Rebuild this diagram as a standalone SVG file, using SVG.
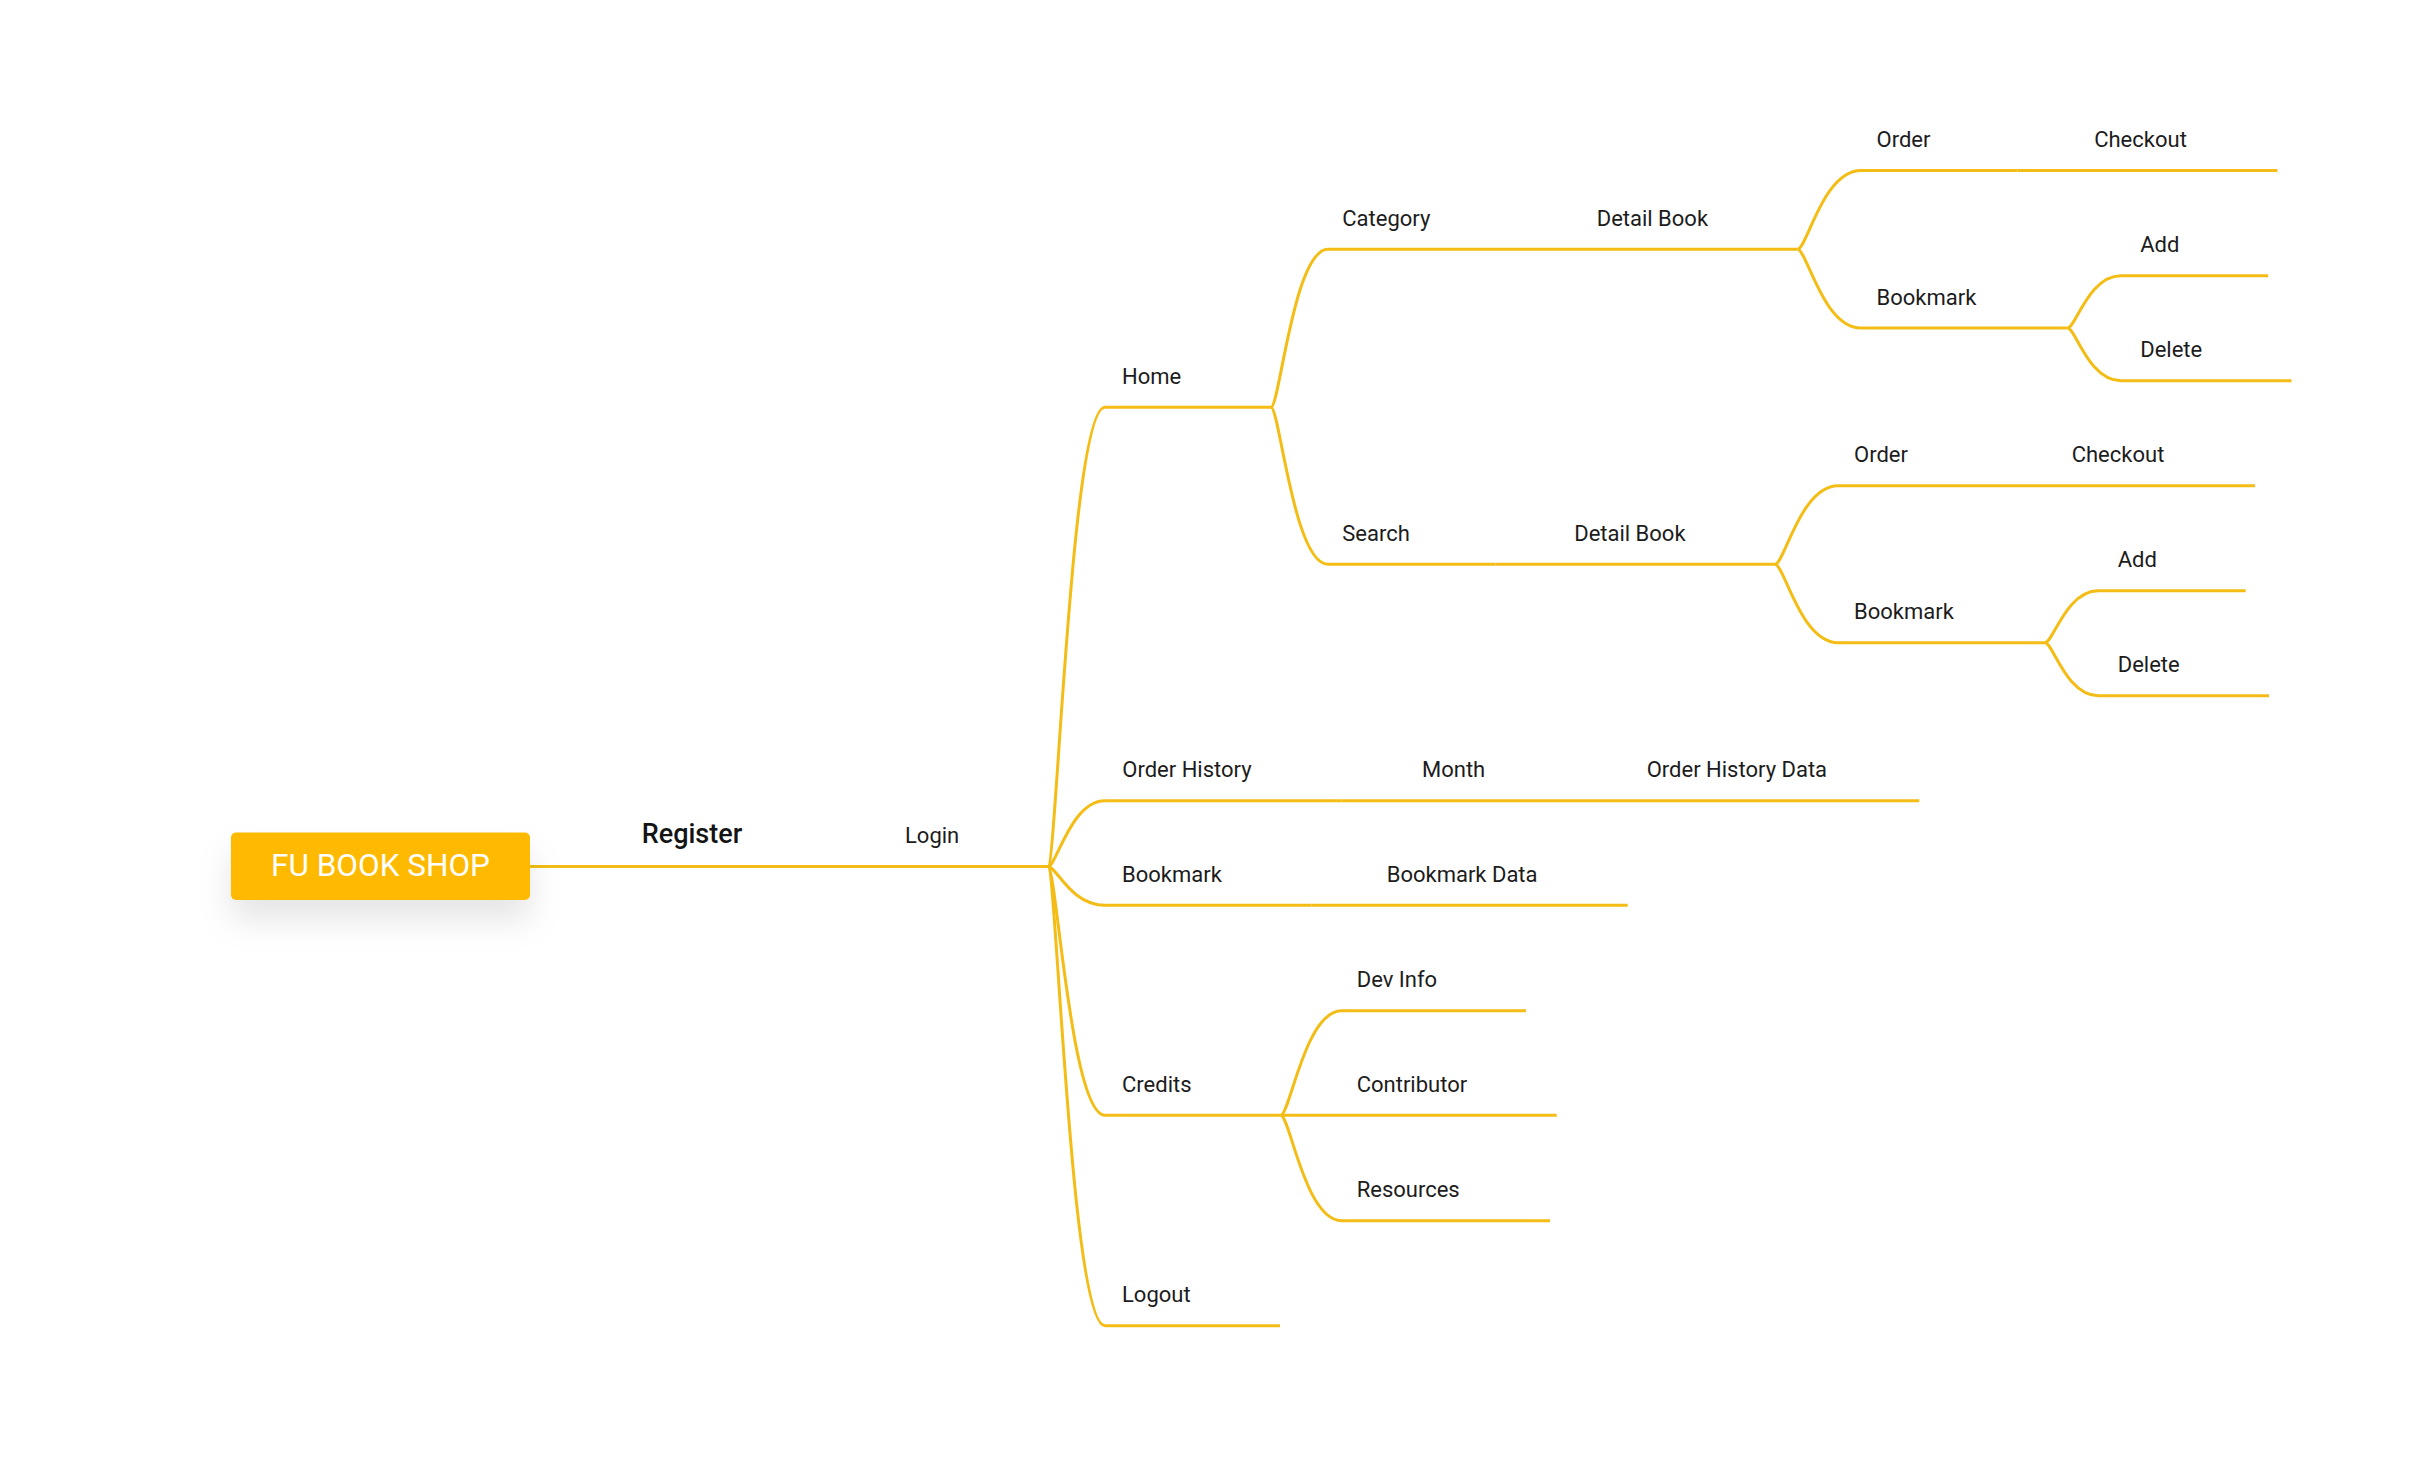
<svg xmlns="http://www.w3.org/2000/svg" width="2412" height="1458" viewBox="0 0 2412 1458">
  <defs>
    <filter id="shadow" x="-30%" y="-60%" width="160%" height="280%">
      <feDropShadow dx="0" dy="20" stdDeviation="16" flood-color="#000000" flood-opacity="0.10"/>
    </filter>
    <style>
      .edge { fill: none; stroke: #F3BD16; stroke-width: 3; stroke-linecap: butt; stroke-linejoin: round; }
      .lbl { font-family: Roboto, "Liberation Sans", sans-serif; font-size: 22px; fill: #1c1c1c; }
      .l1 { font-family: Roboto, "Liberation Sans", sans-serif; font-size: 27px; font-weight: 500; fill: #141414; }
      .root-box { fill: #FFBA00; }
      .root-txt { font-family: Roboto, "Liberation Sans", sans-serif; font-size: 31.5px; fill: #ffffff; text-anchor: middle; }
    </style>
  </defs>
  <rect width="2412" height="1458" fill="#ffffff"/>

  <g id="connectors">
    <path class="edge" d="M530 866.5 H828"/>
    <path class="edge" d="M828 866.5 H1048"/>
    <path class="edge" d="M1048 866.5 C1056.55 866.5 1070.8 407.3 1105 407.3 H1271"/>
    <path class="edge" d="M1048 866.5 C1056.55 866.5 1070.8 800.7 1105 800.7 H1341.7"/>
    <path class="edge" d="M1341.7 800.7 H1570"/>
    <path class="edge" d="M1570 800.7 H1919.3"/>
    <path class="edge" d="M1048 866.5 C1056.55 866.5 1070.8 905.3 1105 905.3 H1311.7"/>
    <path class="edge" d="M1311.7 905.3 H1627.7"/>
    <path class="edge" d="M1048 866.5 C1056.55 866.5 1070.8 1115.3 1105 1115.3 H1280.7"/>
    <path class="edge" d="M1048 866.5 C1056.55 866.5 1070.8 1325.7 1105 1325.7 H1280"/>
    <path class="edge" d="M1271 407.3 C1279.55 407.3 1293.8 249.3 1328 249.3 H1518"/>
    <path class="edge" d="M1518 249.3 H1797.5"/>
    <path class="edge" d="M1271 407.3 C1279.55 407.3 1293.8 564.3 1328 564.3 H1495.5"/>
    <path class="edge" d="M1495.5 564.3 H1775"/>
    <path class="edge" d="M1797.5 249.3 C1807 249.3 1822.9 170.5 1861 170.5 H2017.5"/>
    <path class="edge" d="M2017.5 170.5 H2277.5"/>
    <path class="edge" d="M1797.5 249.3 C1807 249.3 1822.9 328 1861 328 H2067.5"/>
    <path class="edge" d="M2067.5 328 C2075.5 328 2088.8 275.7 2120.8 275.7 H2268.2"/>
    <path class="edge" d="M2067.5 328 C2075.5 328 2088.8 380.7 2120.8 380.7 H2291.5"/>
    <path class="edge" d="M1775 564.3 C1784.5 564.3 1800.3 485.7 1838.3 485.7 H1995"/>
    <path class="edge" d="M1995 485.7 H2255"/>
    <path class="edge" d="M1775 564.3 C1784.5 564.3 1800.3 642.7 1838.3 642.7 H2045"/>
    <path class="edge" d="M2045 642.7 C2053 642.7 2066.3 590.7 2098.3 590.7 H2245.7"/>
    <path class="edge" d="M2045 642.7 C2053 642.7 2066.3 695.7 2098.3 695.7 H2269"/>
    <path class="edge" d="M1280.7 1115.3 C1289.85 1115.3 1305.1 1010.7 1341.7 1010.7 H1526"/>
    <path class="edge" d="M1280.7 1115.3 H1556.7"/>
    <path class="edge" d="M1280.7 1115.3 C1289.85 1115.3 1305.1 1220.7 1341.7 1220.7 H1550"/>
  </g>

  <g id="node-root">
    <rect class="root-box" x="231" y="832.5" width="299" height="67.5" rx="5" filter="url(#shadow)"/>
    <text class="root-txt" x="380.5" y="875.7">FU BOOK SHOP</text>
  </g>
  <g id="node-register"><text class="l1" x="641.7" y="842.7">Register</text></g>
  <g id="node-login"><text class="lbl" x="905" y="843.3">Login</text></g>
  <g id="node-home"><text class="lbl" x="1122" y="383.8">Home</text></g>
  <g id="node-category"><text class="lbl" x="1342.3" y="226">Category</text></g>
  <g id="node-detail-book-1"><text class="lbl" x="1596.7" y="226">Detail Book</text></g>
  <g id="node-order-1"><text class="lbl" x="1876.5" y="147">Order</text></g>
  <g id="node-checkout-1"><text class="lbl" x="2094.2" y="147">Checkout</text></g>
  <g id="node-bookmark-1"><text class="lbl" x="1876.5" y="304.5">Bookmark</text></g>
  <g id="node-add-1"><text class="lbl" x="2140.2" y="252.2">Add</text></g>
  <g id="node-delete-1"><text class="lbl" x="2140.2" y="357.2">Delete</text></g>
  <g id="node-search"><text class="lbl" x="1342.3" y="540.8">Search</text></g>
  <g id="node-detail-book-2"><text class="lbl" x="1574.2" y="540.8">Detail Book</text></g>
  <g id="node-order-2"><text class="lbl" x="1854" y="462.2">Order</text></g>
  <g id="node-checkout-2"><text class="lbl" x="2071.7" y="462.2">Checkout</text></g>
  <g id="node-bookmark-2"><text class="lbl" x="1854" y="619.2">Bookmark</text></g>
  <g id="node-add-2"><text class="lbl" x="2117.7" y="567.2">Add</text></g>
  <g id="node-delete-2"><text class="lbl" x="2117.7" y="672.2">Delete</text></g>
  <g id="node-order-history"><text class="lbl" x="1122.3" y="777.2">Order History</text></g>
  <g id="node-month"><text class="lbl" x="1422" y="777.2">Month</text></g>
  <g id="node-order-history-data"><text class="lbl" x="1646.7" y="777.2">Order History Data</text></g>
  <g id="node-bookmark"><text class="lbl" x="1122" y="881.8">Bookmark</text></g>
  <g id="node-bookmark-data"><text class="lbl" x="1386.7" y="881.8">Bookmark Data</text></g>
  <g id="node-credits"><text class="lbl" x="1122" y="1091.8">Credits</text></g>
  <g id="node-dev-info"><text class="lbl" x="1356.7" y="987.2">Dev Info</text></g>
  <g id="node-contributor"><text class="lbl" x="1356.7" y="1091.8">Contributor</text></g>
  <g id="node-resources"><text class="lbl" x="1356.7" y="1197.2">Resources</text></g>
  <g id="node-logout"><text class="lbl" x="1122" y="1302.2">Logout</text></g>
</svg>
